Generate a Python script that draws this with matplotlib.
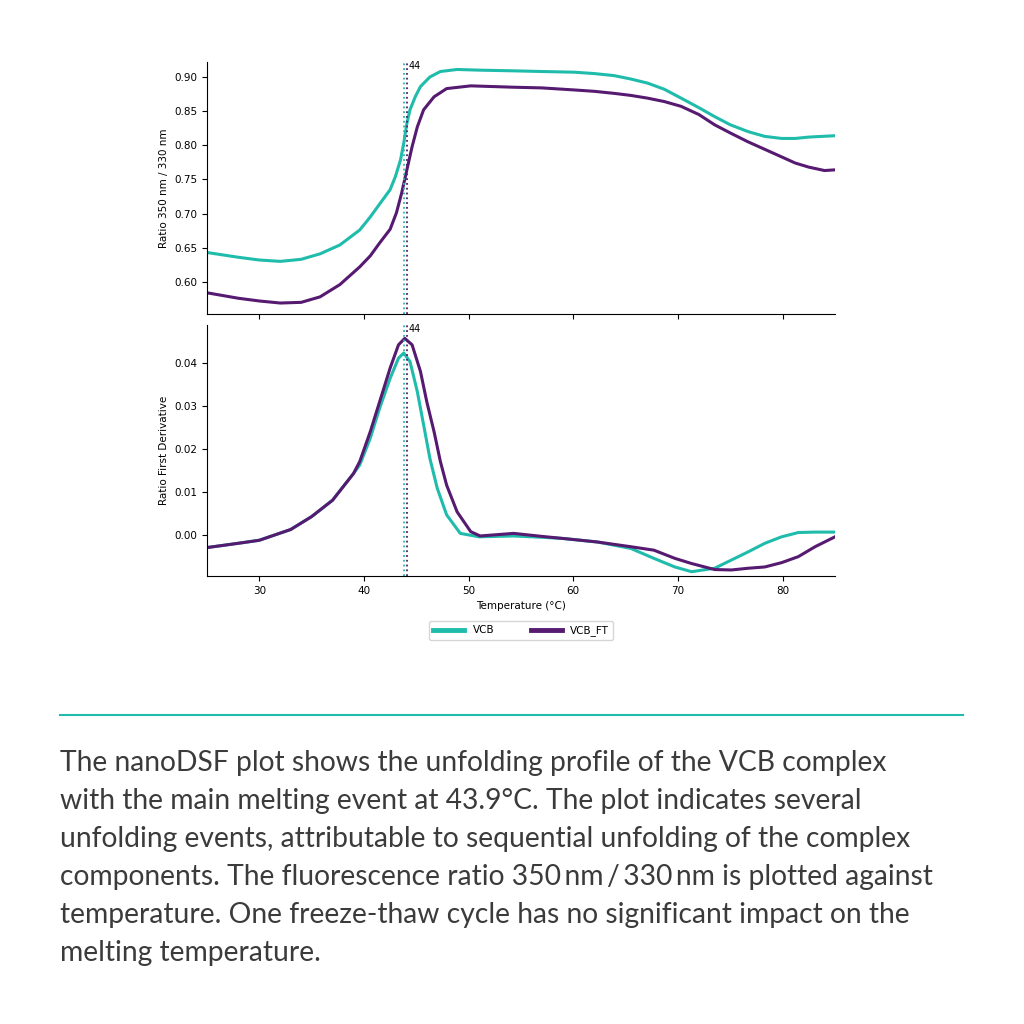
import matplotlib
matplotlib.use("Agg")
import matplotlib.pyplot as plt
import matplotlib.transforms as mtransforms
from matplotlib.lines import Line2D

# ratio 350/330 curves
vcb_ratio_t = [25, 28, 30, 32, 34, 35.8, 37.7, 39.6, 40.6, 41.5, 42.5, 43.0, 43.5, 43.8, 44.1,
               44.4, 44.9, 45.4, 46.3, 47.3, 48.9, 51, 54.3, 57, 60.1, 62, 63.9, 65.5, 67.1, 68.7,
               70.3, 72, 73.5, 75, 76.7, 78.3, 79.9, 81.2, 82.5, 85]
vcb_ratio = [0.643, 0.636, 0.632, 0.630, 0.633, 0.641, 0.654, 0.676, 0.695, 0.714, 0.735, 0.754,
             0.779, 0.803, 0.832, 0.852, 0.871, 0.886, 0.900, 0.908, 0.911, 0.910, 0.909, 0.908,
             0.907, 0.905, 0.902, 0.897, 0.891, 0.882, 0.869, 0.855, 0.842, 0.830, 0.820, 0.813,
             0.810, 0.810, 0.812, 0.814]
vcbft_ratio_t = [25, 28, 30, 32, 34, 35.8, 37.7, 39.6, 40.6, 41.5, 42.5, 43.1, 43.6, 44.1, 44.6,
                 45.1, 45.7, 46.7, 47.9, 50.2, 54.3, 57, 60.1, 62, 63.9, 65.5, 67.1, 68.7, 70.3,
                 72, 73.5, 75, 76.7, 78.3, 79.9, 81.2, 82.5, 84, 85]
vcbft_ratio = [0.584, 0.576, 0.572, 0.569, 0.570, 0.578, 0.596, 0.622, 0.638, 0.657, 0.677, 0.701,
               0.730, 0.764, 0.798, 0.827, 0.852, 0.871, 0.883, 0.887, 0.885, 0.884, 0.881, 0.879,
               0.876, 0.873, 0.869, 0.864, 0.857, 0.845, 0.830, 0.818, 0.805, 0.794, 0.783, 0.774,
               0.768, 0.763, 0.764]

# first derivative curves
vcb_deriv_t = [25, 28, 30, 33, 35, 37, 39, 39.6, 40.6, 41.5, 42.5, 43.3, 43.8, 44.4, 45.1, 45.7,
               46.3, 47.0, 47.9, 49.2, 51, 54.3, 57, 59.1, 62.3, 65.5, 67.7, 69.7, 71.3, 73.5,
               75.1, 76.7, 78.3, 79.9, 81.5, 83.1, 85]
vcb_deriv = [-0.0029, -0.0019, -0.0012, 0.0013, 0.0043, 0.0081, 0.0143, 0.0163, 0.0225, 0.0295,
             0.0364, 0.0411, 0.0423, 0.0403, 0.0333, 0.0256, 0.0178, 0.0109, 0.0047, 0.0004,
             -0.0004, -0.0002, -0.0005, -0.0008, -0.0016, -0.0031, -0.0054, -0.0074, -0.0085,
             -0.0077, -0.0058, -0.0039, -0.0019, -0.0004, 0.0006, 0.0007, 0.0007]
vcbft_deriv_t = [25, 28, 30, 33, 35, 37, 39, 39.6, 40.6, 41.5, 42.5, 43.3, 43.9, 44.6, 45.4, 46.0,
                 46.7, 47.3, 47.9, 48.9, 50.2, 51.1, 54.3, 57, 59.1, 62.3, 65.5, 67.7, 69.7, 71.3,
                 73.5, 75.1, 76.7, 78.3, 79.9, 81.5, 83.1, 85]
vcbft_deriv = [-0.0029, -0.0019, -0.0012, 0.0013, 0.0043, 0.0081, 0.0143, 0.0171, 0.0240, 0.0310,
               0.0388, 0.0442, 0.0457, 0.0442, 0.0380, 0.0310, 0.0240, 0.0171, 0.0116, 0.0054,
               0.0008, -0.0002, 0.0004, -0.0003, -0.0008, -0.0016, -0.0027, -0.0035, -0.0054,
               -0.0066, -0.0080, -0.0081, -0.0077, -0.0074, -0.0064, -0.0050, -0.0027, -0.0004]

tm_values = [43.8, 44.1]
tm_label = "44"
series_names = ["VCB", "VCB_FT"]
ratio_ticks = [0.60, 0.65, 0.70, 0.75, 0.80, 0.85, 0.90]
deriv_ticks = [0.00, 0.01, 0.02, 0.03, 0.04]
temp_ticks = [30, 40, 50, 60, 70, 80]

caption = ("The nanoDSF plot shows the unfolding profile of the VCB complex\n"
           "with the main melting event at 43.9\u00b0C. The plot indicates several\n"
           "unfolding events, attributable to sequential unfolding of the complex\n"
           "components. The fluorescence ratio 350\u2009nm\u2009/\u2009330\u2009nm is plotted against\n"
           "temperature. One freeze-thaw cycle has no significant impact on the\n"
           "melting temperature.")

teal = "#1fbcac"
purple = "#561a70"
colors = [teal, purple]

plt.rcParams['font.size'] = 7.5
fig = plt.figure(figsize=(10.24, 10.24), dpi=100)

ax1 = fig.add_axes([0.2021, 0.6934, 0.6133, 0.2461])
ax2 = fig.add_axes([0.2021, 0.4375, 0.6133, 0.2451], sharex=ax1)

ax1.plot(vcb_ratio_t, vcb_ratio, color=teal, linewidth=2.2)
ax1.plot(vcbft_ratio_t, vcbft_ratio, color=purple, linewidth=2.2)
ax2.plot(vcb_deriv_t, vcb_deriv, color=teal, linewidth=2.2)
ax2.plot(vcbft_deriv_t, vcbft_deriv, color=purple, linewidth=2.2)

for ax in (ax1, ax2):
    for tm, c in zip(tm_values, colors):
        ax.axvline(tm, color=c, linestyle=':', linewidth=1.3)
    trans = mtransforms.blended_transform_factory(ax.transData, ax.transAxes)
    ax.text(44.3, 0.985, tm_label, transform=trans, va='center', ha='left', fontsize=7)
    ax.spines['top'].set_visible(False)
    ax.spines['right'].set_visible(False)
    ax.tick_params(labelsize=7.5)

ax1.set_xlim(25, 85)
ax1.set_ylim(0.553, 0.922)
ax1.set_yticks(ratio_ticks)
ax1.set_yticklabels(["%.2f" % v for v in ratio_ticks])
ax1.tick_params(labelbottom=False)
ax1.set_ylabel("Ratio 350 nm / 330 nm", fontsize=7.5)

ax2.set_ylim(-0.0095, 0.0488)
ax2.set_yticks(deriv_ticks)
ax2.set_yticklabels(["%.2f" % v for v in deriv_ticks])
ax2.set_xticks(temp_ticks)
ax2.set_xlabel("Temperature (\u00b0C)", fontsize=7.5)
ax2.set_ylabel("Ratio First Derivative", fontsize=7.5)

handles = [Line2D([0], [0], color=c, linewidth=3.5) for c in colors]
fig.legend(handles, series_names, loc='center', bbox_to_anchor=(0.509, 0.384),
           ncol=2, fontsize=7.5, columnspacing=3.5, handlelength=3)

# caption block
fig.add_artist(Line2D([60 / 1024, 963 / 1024], [1 - 715 / 1024, 1 - 715 / 1024],
                      color=teal, linewidth=1.5))
fig.text(60 / 1024, 1 - 750 / 1024, caption, ha='left', va='top', fontsize=20.3,
         family=['Lato', 'DejaVu Sans'], color='#3b3b3b', linespacing=1.57)

fig.savefig("out.png", dpi=100, facecolor='white')
